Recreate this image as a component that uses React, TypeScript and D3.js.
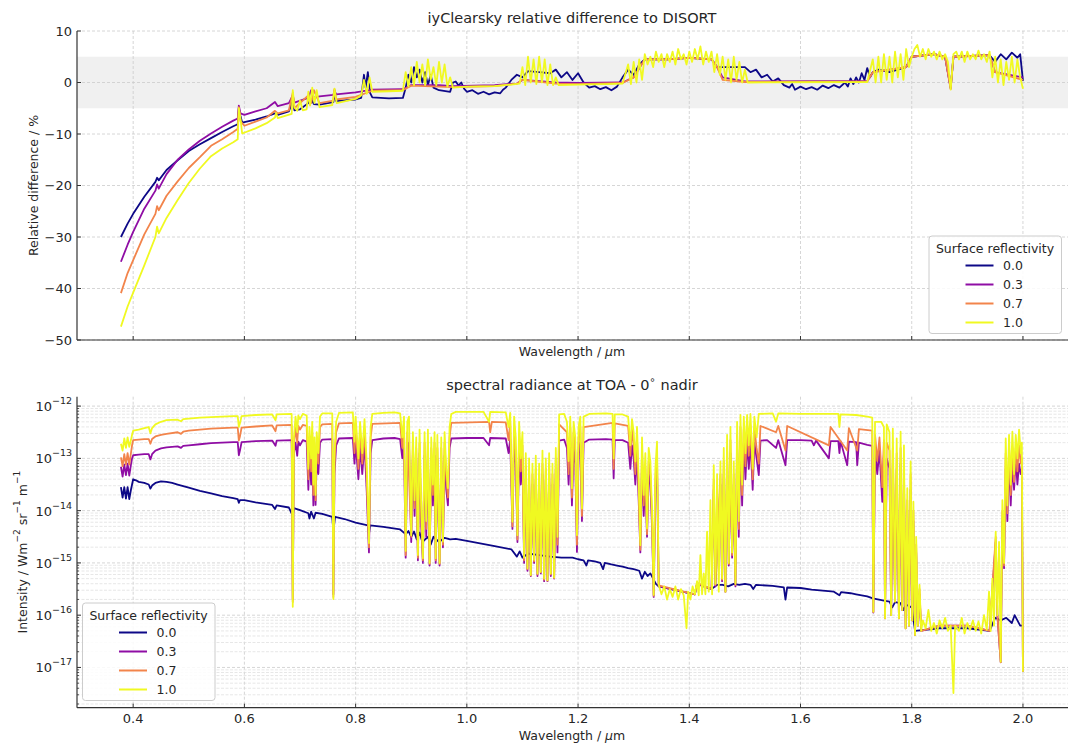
import React from 'react';
import * as d3 from 'd3';

// reflectivity classes shown in both legends
const reflectivities = ['0.0', '0.3', '0.7', '1.0'];
const xTickValues = [0.4, 0.6, 0.8, 1.0, 1.2, 1.4, 1.6, 1.8, 2.0];
const topYTicks = [10, 0, -10, -20, -30, -40, -50];
const botYExponents = [-12, -13, -14, -15, -16, -17];

// top panel: relative difference (%) vs wavelength (um)
const topR00: [number, number][] = [
  [0.378, -30.0], [0.39, -27.4], [0.40, -25.5], [0.42, -22.2], [0.44, -19.3], [0.443, -18.5], [0.446, -19.0],
  [0.46, -17.0], [0.48, -15.1], [0.50, -13.3], [0.52, -12.0], [0.54, -10.8], [0.56, -9.6], [0.58, -8.5],
  [0.588, -8.1], [0.59, -5.0], [0.593, -6.5], [0.596, -7.8], [0.62, -7.2], [0.64, -6.6], [0.655, -6.0],
  [0.66, -6.3], [0.68, -5.6], [0.687, -3.5], [0.69, -5.4], [0.70, -5.2], [0.715, -4.0], [0.72, -3.2],
  [0.725, -4.2], [0.735, -4.3], [0.76, -3.8], [0.762, -2.2], [0.765, -3.6], [0.80, -3.3], [0.81, -3.0],
  [0.815, 1.5], [0.818, -1.0], [0.822, 2.0], [0.826, -2.0], [0.83, -2.9], [0.86, -3.1], [0.885, -3.0],
  [0.89, -1.0], [0.895, 1.5], [0.90, 0.0], [0.905, 3.0], [0.91, 1.0], [0.915, 2.5], [0.92, 0.0], [0.925, 2.0],
  [0.93, -0.5], [0.935, 1.5], [0.94, -1.0], [0.95, -1.5], [0.97, -1.8], [0.975, 0.0], [0.98, 0.2], [0.985, -0.6],
  [0.99, 0.0], [0.995, -1.2], [1.00, -1.8], [1.01, -1.5], [1.02, -2.2], [1.03, -1.8], [1.04, -2.3], [1.05, -1.9],
  [1.06, -2.1], [1.065, -1.4], [1.07, -1.0], [1.08, 0.5], [1.09, 1.5], [1.10, 1.0], [1.11, 2.2], [1.13, 2.0],
  [1.15, 1.8], [1.16, 2.5], [1.17, 1.0], [1.18, 2.0], [1.19, 0.5], [1.20, 1.8], [1.21, 0.0], [1.22, -1.0],
  [1.23, -0.7], [1.24, -1.3], [1.25, -0.9], [1.26, -1.5], [1.27, -0.8], [1.28, 1.0], [1.29, 2.5], [1.30, 1.5],
  [1.31, 3.5], [1.32, 4.5], [1.36, 4.5], [1.40, 4.8], [1.44, 4.5], [1.45, 3.0], [1.50, 3.0], [1.51, 2.0],
  [1.52, 2.5], [1.53, 1.0], [1.54, 1.5], [1.55, 0.2], [1.56, 0.8], [1.57, -0.5], [1.58, -1.0], [1.585, -0.3],
  [1.59, -1.4], [1.60, -0.8], [1.61, -1.3], [1.62, -0.9], [1.63, -1.4], [1.64, -0.6], [1.65, -1.1], [1.66, -0.5],
  [1.67, -1.0], [1.68, 0.0], [1.685, -0.8], [1.69, 0.8], [1.695, -0.3], [1.70, 1.0], [1.705, 0.0], [1.71, 1.8],
  [1.715, 0.5], [1.72, 2.8], [1.725, 1.0], [1.73, 2.0], [1.74, 2.5], [1.76, 2.0], [1.79, 3.0], [1.80, 5.0],
  [1.84, 5.5], [1.86, 5.0], [1.87, -1.0], [1.875, 5.0], [1.94, 5.3], [1.95, 4.0], [1.96, 5.5], [1.97, 4.5],
  [1.98, 5.8], [1.99, 4.8], [1.995, 5.5], [2.0, 0.3],
];
const topR03: [number, number][] = [
  [0.378, -34.8], [0.39, -31.5], [0.40, -29.0], [0.42, -24.5], [0.44, -21.0], [0.443, -19.8], [0.446, -20.6],
  [0.46, -17.8], [0.48, -15.0], [0.50, -13.0], [0.52, -11.3], [0.54, -9.9], [0.56, -8.6], [0.58, -7.4],
  [0.588, -7.0], [0.59, -4.5], [0.593, -6.0], [0.60, -6.3], [0.62, -5.6], [0.64, -5.0], [0.655, -3.8],
  [0.66, -4.6], [0.68, -4.0], [0.687, -2.5], [0.69, -3.9], [0.715, -3.0], [0.72, -1.5], [0.725, -3.0],
  [0.735, -2.7], [0.76, -2.4], [0.762, -1.5], [0.765, -2.3], [0.80, -1.9], [0.83, -1.4], [0.885, -1.3],
  [0.90, -0.5], [0.95, -0.5], [0.975, -0.7], [1.05, -0.5], [1.09, -0.2], [1.10, 0.5], [1.16, 0.0],
  [1.20, -0.1], [1.28, 0.0], [1.30, 1.0], [1.32, 4.5], [1.36, 4.5], [1.40, 4.8], [1.44, 4.5], [1.45, 3.0],
  [1.46, 1.0], [1.50, 0.2], [1.72, 0.3], [1.73, 2.0], [1.79, 3.0], [1.80, 5.0], [1.84, 5.5], [1.86, 5.0],
  [1.87, -1.2], [1.875, 5.0], [1.94, 5.3], [1.95, 2.0], [2.0, 1.0],
];
const topR07: [number, number][] = [
  [0.378, -40.9], [0.39, -37.0], [0.40, -34.5], [0.42, -29.5], [0.44, -25.5], [0.443, -24.0], [0.446, -24.8],
  [0.46, -22.0], [0.48, -19.2], [0.50, -16.6], [0.52, -14.5], [0.54, -12.3], [0.56, -11.0], [0.58, -9.6],
  [0.588, -9.0], [0.59, -4.8], [0.593, -7.5], [0.60, -8.4], [0.62, -7.6], [0.64, -6.8], [0.655, -5.5],
  [0.66, -6.0], [0.68, -5.4], [0.687, -2.0], [0.69, -5.0], [0.715, -2.5], [0.72, -4.0], [0.725, -1.5],
  [0.735, -4.0], [0.76, -3.5], [0.762, -1.3], [0.765, -3.3], [0.80, -2.8], [0.83, -1.6], [0.885, -1.5],
  [0.90, -0.6], [0.975, -0.9], [1.05, -0.7], [1.09, -0.2], [1.10, 0.5], [1.16, -0.2], [1.20, -0.3],
  [1.28, -0.1], [1.30, 1.0], [1.32, 4.5], [1.36, 4.5], [1.40, 4.8], [1.44, 4.5], [1.45, 3.0], [1.46, 0.5],
  [1.50, 0.1], [1.72, 0.2], [1.73, 2.0], [1.79, 3.0], [1.80, 5.0], [1.84, 5.5], [1.86, 5.0], [1.87, -1.3],
  [1.875, 5.0], [1.94, 5.3], [1.95, 2.0], [2.0, 0.5],
];
const topR10: [number, number][] = [
  [0.378, -47.4], [0.39, -43.5], [0.40, -40.8], [0.42, -35.5], [0.44, -30.0], [0.443, -28.0], [0.446, -29.3],
  [0.46, -26.3], [0.48, -22.8], [0.50, -19.5], [0.52, -16.7], [0.54, -14.3], [0.56, -12.8], [0.58, -11.6],
  [0.588, -11.0], [0.59, -5.0], [0.593, -7.0], [0.596, -9.9], [0.62, -8.9], [0.64, -7.9], [0.655, -6.8],
  [0.657, -5.9], [0.66, -6.9], [0.685, -6.1], [0.687, -1.5], [0.69, -4.8], [0.695, -5.5], [0.70, -3.5],
  [0.705, -5.4], [0.712, -5.2], [0.715, -1.8], [0.718, -4.5], [0.722, -1.0], [0.726, -4.0], [0.73, -1.5],
  [0.735, -4.8], [0.758, -4.4], [0.762, -1.2], [0.766, -4.0], [0.80, -3.2], [0.81, -2.5], [0.815, 0.5],
  [0.82, -2.2], [0.825, 1.0], [0.83, -1.8], [0.86, -1.7], [0.885, -1.6], [0.89, 2.0], [0.895, -0.8],
  [0.90, 3.0], [0.905, -0.5], [0.91, 4.0], [0.915, 0.0], [0.92, 3.5], [0.925, -0.5], [0.93, 4.5], [0.935, 0.5],
  [0.94, 3.0], [0.945, -0.5], [0.95, 4.0], [0.955, 0.0], [0.96, 3.5], [0.965, -0.8], [0.97, 1.0], [0.975, -1.0],
  [1.0, -0.8], [1.05, -0.7], [1.08, -0.4], [1.095, -0.2], [1.10, 3.0], [1.105, -0.5], [1.11, 5.0], [1.115, 0.0],
  [1.12, 4.5], [1.125, -0.3], [1.13, 5.0], [1.135, 0.0], [1.14, 4.5], [1.145, -0.5], [1.15, 3.5], [1.155, -0.5],
  [1.16, 1.0], [1.165, -0.5], [1.20, -0.4], [1.25, -0.3], [1.28, -0.2], [1.29, 3.5], [1.295, -0.3], [1.30, 4.0],
  [1.305, 0.0], [1.31, 4.5], [1.315, 0.5], [1.32, 5.5], [1.325, 3.5], [1.33, 5.0], [1.335, 3.0], [1.34, 6.0],
  [1.345, 4.0], [1.35, 5.5], [1.355, 3.0], [1.36, 5.5], [1.365, 4.0], [1.37, 6.0], [1.375, 3.5], [1.38, 6.5],
  [1.385, 4.5], [1.39, 5.5], [1.395, 3.5], [1.40, 6.0], [1.405, 4.0], [1.41, 6.5], [1.415, 4.5], [1.42, 7.0],
  [1.425, 3.5], [1.43, 6.0], [1.435, 4.0], [1.44, 6.0], [1.445, 2.0], [1.45, 5.5], [1.455, 1.5], [1.46, 5.0],
  [1.465, 0.5], [1.47, 4.5], [1.475, 0.0], [1.48, 5.0], [1.485, 0.5], [1.49, 4.0], [1.495, 0.0], [1.50, 2.5],
  [1.505, 0.0], [1.72, 0.1], [1.73, 4.5], [1.735, 0.0], [1.74, 5.0], [1.745, 0.0], [1.75, 5.5], [1.755, 0.5],
  [1.76, 5.0], [1.765, 0.0], [1.77, 6.0], [1.775, 1.0], [1.78, 5.5], [1.785, 0.5], [1.79, 6.5], [1.795, 3.0],
  [1.80, 5.0], [1.805, 6.5], [1.81, 7.3], [1.815, 5.0], [1.82, 6.5], [1.825, 4.5], [1.83, 6.5], [1.835, 5.0],
  [1.84, 6.0], [1.845, 4.5], [1.85, 6.0], [1.855, 4.5], [1.86, 5.5], [1.865, 4.0], [1.87, -1.4], [1.875, 5.5],
  [1.88, 6.0], [1.885, 4.5], [1.89, 6.0], [1.895, 4.0], [1.90, 6.0], [1.905, 4.5], [1.91, 5.5], [1.915, 4.5],
  [1.92, 6.2], [1.925, 4.5], [1.93, 5.5], [1.935, 4.0], [1.94, 6.0], [1.945, 1.0], [1.95, 5.0], [1.955, 0.0],
  [1.96, 4.5], [1.965, -0.5], [1.97, 4.0], [1.975, 0.5], [1.98, 5.0], [1.985, 0.0], [1.99, 4.5], [1.995, 1.0],
  [2.0, -1.2],
];

// bottom panel: log10 of radiance vs wavelength (um)
const botR00: [number, number][] = [
  [0.378, -13.55], [0.381, -13.75], [0.384, -13.55], [0.387, -13.77], [0.39, -13.55], [0.393, -13.78],
  [0.396, -13.6], [0.398, -13.5], [0.40, -13.4], [0.405, -13.42], [0.41, -13.45], [0.42, -13.47], [0.428, -13.5],
  [0.431, -13.58], [0.434, -13.52], [0.44, -13.47], [0.45, -13.44], [0.46, -13.45], [0.47, -13.47], [0.48, -13.5],
  [0.49, -13.53], [0.50, -13.56], [0.52, -13.62], [0.54, -13.67], [0.56, -13.72], [0.58, -13.76], [0.588, -13.78],
  [0.59, -13.85], [0.592, -13.8], [0.60, -13.8], [0.62, -13.84], [0.65, -13.89], [0.655, -13.97], [0.658, -13.9],
  [0.68, -13.94], [0.687, -14.1], [0.689, -13.95], [0.70, -13.99], [0.715, -14.05], [0.717, -14.15], [0.72, -14.02],
  [0.725, -14.15], [0.728, -14.04], [0.74, -14.06], [0.758, -14.12], [0.76, -14.4], [0.763, -14.12], [0.78, -14.16],
  [0.80, -14.23], [0.822, -14.28], [0.824, -14.45], [0.826, -14.28], [0.85, -14.31], [0.88, -14.36], [0.89, -14.45],
  [0.895, -14.39], [0.90, -14.5], [0.905, -14.4], [0.91, -14.55], [0.915, -14.42], [0.92, -14.6], [0.93, -14.5],
  [0.935, -14.65], [0.94, -14.5], [0.95, -14.6], [0.96, -14.52], [0.97, -14.55], [0.98, -14.54], [1.00, -14.58],
  [1.05, -14.68], [1.08, -14.74], [1.09, -14.88], [1.095, -14.78], [1.10, -14.9], [1.11, -14.82], [1.13, -14.85],
  [1.15, -14.88], [1.17, -14.9], [1.19, -14.9], [1.20, -14.93], [1.21, -14.95], [1.215, -15.05], [1.218, -14.95],
  [1.23, -14.97], [1.24, -15.0], [1.245, -15.12], [1.248, -15.0], [1.26, -15.03], [1.27, -15.05], [1.28, -15.07],
  [1.29, -15.1], [1.30, -15.12], [1.31, -15.15], [1.315, -15.3], [1.32, -15.17], [1.325, -15.25], [1.33, -15.2],
  [1.34, -15.4], [1.345, -15.45], [1.41, -15.6], [1.414, -15.4], [1.44, -15.5], [1.45, -15.42], [1.46, -15.42],
  [1.47, -15.45], [1.48, -15.4], [1.49, -15.42], [1.50, -15.4], [1.51, -15.42], [1.515, -15.5], [1.52, -15.42],
  [1.55, -15.44], [1.57, -15.47], [1.573, -15.7], [1.576, -15.47], [1.60, -15.48], [1.62, -15.51], [1.64, -15.53],
  [1.66, -15.55], [1.67, -15.62], [1.673, -15.56], [1.69, -15.58], [1.70, -15.6], [1.72, -15.64], [1.73, -15.68],
  [1.75, -15.72], [1.76, -15.74], [1.765, -15.85], [1.77, -15.75], [1.78, -15.77], [1.785, -15.9], [1.79, -15.8],
  [1.80, -15.85], [1.806, -16.3], [1.85, -16.25], [1.90, -16.25], [1.94, -16.3], [1.95, -16.05], [1.96, -16.1],
  [1.97, -16.05], [1.98, -16.15], [1.985, -16.0], [1.99, -16.1], [1.995, -16.2], [2.0, -16.2],
];
const botR03: [number, number][] = [
  [0.378, -13.16], [0.381, -13.35], [0.384, -13.12], [0.387, -13.32], [0.39, -13.1], [0.393, -13.33],
  [0.396, -13.12], [0.398, -13.0], [0.40, -12.94], [0.41, -12.93], [0.42, -12.92], [0.428, -12.92],
  [0.431, -13.02], [0.434, -12.92], [0.44, -12.85], [0.45, -12.81], [0.46, -12.79], [0.48, -12.77],
  [0.486, -12.8], [0.49, -12.76], [0.50, -12.75], [0.52, -12.73], [0.54, -12.71], [0.56, -12.7], [0.58, -12.69],
  [0.588, -12.69], [0.59, -12.94], [0.592, -12.85], [0.595, -12.69], [0.62, -12.67], [0.65, -12.66],
  [0.656, -12.76], [0.658, -12.66], [0.685, -12.65], [0.687, -15.7], [0.689, -12.9], [0.692, -12.7],
  [0.695, -12.95], [0.697, -12.68], [0.70, -12.75], [0.705, -12.65], [0.712, -12.68], [0.715, -13.6],
  [0.717, -12.9], [0.72, -13.5], [0.722, -12.8], [0.724, -13.9], [0.726, -13.1], [0.728, -13.89], [0.73, -13.0],
  [0.733, -13.3], [0.736, -12.7], [0.74, -12.64], [0.758, -12.63], [0.76, -15.6], [0.762, -13.3], [0.765, -12.75],
  [0.77, -12.62], [0.795, -12.61], [0.798, -13.1], [0.80, -12.7], [0.805, -13.4], [0.808, -12.8], [0.812, -13.3],
  [0.816, -12.7], [0.82, -13.64], [0.824, -14.8], [0.827, -12.9], [0.83, -12.65], [0.85, -12.62], [0.87, -12.61],
  [0.88, -12.63], [0.884, -13.0], [0.887, -12.7], [0.89, -14.9], [0.893, -12.8], [0.896, -12.7], [0.90, -14.6],
  [0.903, -12.9], [0.906, -14.1], [0.909, -13.0], [0.912, -14.95], [0.915, -12.9], [0.918, -14.3], [0.921, -15.0],
  [0.924, -12.95], [0.927, -14.5], [0.93, -12.9], [0.933, -15.05], [0.936, -13.0], [0.939, -13.9], [0.942, -12.95],
  [0.944, -15.0], [0.947, -13.0], [0.951, -15.05], [0.954, -13.05], [0.957, -14.7], [0.96, -12.95], [0.963, -13.6],
  [0.966, -13.9], [0.969, -12.8], [0.972, -12.62], [1.00, -12.61], [1.03, -12.61], [1.04, -12.75], [1.042, -12.61],
  [1.07, -12.62], [1.075, -12.9], [1.078, -12.63], [1.082, -14.35], [1.085, -12.7], [1.088, -13.1], [1.091, -14.6],
  [1.094, -12.8], [1.097, -13.5], [1.10, -13.0], [1.103, -15.0], [1.106, -13.4], [1.109, -15.15], [1.112, -13.5],
  [1.115, -15.25], [1.118, -13.5], [1.121, -15.0], [1.124, -13.4], [1.127, -15.25], [1.13, -13.5], [1.133, -15.2],
  [1.136, -13.3], [1.139, -15.35], [1.142, -13.4], [1.145, -15.35], [1.148, -13.3], [1.151, -15.25], [1.154, -13.5],
  [1.157, -15.3], [1.16, -13.2], [1.163, -14.8], [1.166, -12.66], [1.175, -12.64], [1.18, -12.8], [1.183, -13.5],
  [1.186, -12.7], [1.189, -13.9], [1.192, -12.8], [1.195, -13.1], [1.198, -14.79], [1.201, -12.9], [1.204, -12.7],
  [1.207, -14.2], [1.21, -12.7], [1.22, -12.64], [1.25, -12.63], [1.262, -12.64], [1.264, -13.38], [1.266, -12.65],
  [1.28, -12.65], [1.29, -12.7], [1.294, -13.2], [1.297, -12.75], [1.30, -13.0], [1.303, -13.5], [1.306, -12.9],
  [1.309, -13.8], [1.312, -14.8], [1.315, -13.1], [1.318, -14.1], [1.321, -13.4], [1.324, -14.5], [1.327, -13.3],
  [1.33, -13.5], [1.333, -14.3], [1.336, -15.65], [1.339, -13.6], [1.342, -13.2], [1.345, -15.45], [1.41, -15.6],
  [1.414, -15.4], [1.44, -15.5], [1.444, -13.6], [1.447, -15.45], [1.456, -13.5], [1.459, -15.35], [1.462, -13.3],
  [1.465, -15.55], [1.468, -13.0], [1.471, -15.05], [1.474, -12.9], [1.477, -14.9], [1.48, -13.5], [1.483, -15.45],
  [1.486, -12.8], [1.489, -14.5], [1.492, -12.67], [1.495, -13.9], [1.498, -12.7], [1.501, -13.4], [1.504, -12.67],
  [1.507, -13.2], [1.51, -12.65], [1.514, -13.6], [1.517, -12.7], [1.521, -13.0], [1.525, -13.32], [1.528, -12.66],
  [1.54, -12.65], [1.556, -12.8], [1.56, -12.65], [1.573, -13.13], [1.576, -12.65], [1.60, -12.65], [1.62, -12.66],
  [1.624, -12.75], [1.628, -12.66], [1.651, -13.0], [1.654, -12.67], [1.668, -12.67], [1.67, -12.9], [1.672, -12.67],
  [1.684, -13.13], [1.687, -12.68], [1.70, -12.69], [1.702, -13.13], [1.705, -12.7], [1.72, -12.74], [1.729, -12.76],
  [1.731, -15.95], [1.734, -12.8], [1.738, -13.3], [1.742, -12.85], [1.747, -13.83], [1.75, -12.9], [1.752, -16.06],
  [1.755, -13.0], [1.76, -13.2], [1.763, -16.0], [1.766, -13.1], [1.77, -15.74], [1.773, -13.2], [1.777, -16.06],
  [1.78, -13.1], [1.783, -15.9], [1.786, -13.4], [1.789, -16.25], [1.792, -14.0], [1.795, -16.2], [1.798, -13.6],
  [1.801, -16.1], [1.803, -14.2], [1.806, -16.38], [1.808, -14.8], [1.811, -16.2], [1.814, -15.6], [1.817, -16.3],
  [1.85, -16.2], [1.90, -16.2], [1.94, -16.3], [1.951, -14.6], [1.954, -16.0], [1.96, -16.9], [1.963, -14.2],
  [1.966, -15.1], [1.969, -13.2], [1.972, -14.2], [1.975, -13.0], [1.978, -13.9], [1.981, -13.1], [1.984, -13.6],
  [1.987, -13.0], [1.99, -13.5], [1.993, -13.1], [1.996, -13.3], [1.998, -13.2], [2.0, -17.08],
];
const botR07: [number, number][] = [
  [0.378, -12.98], [0.381, -13.15], [0.384, -12.92], [0.387, -13.12], [0.39, -12.9], [0.393, -13.12],
  [0.396, -12.9], [0.398, -12.75], [0.40, -12.65], [0.41, -12.64], [0.42, -12.63], [0.428, -12.63],
  [0.431, -12.72], [0.434, -12.63], [0.44, -12.58], [0.45, -12.55], [0.46, -12.53], [0.48, -12.5],
  [0.486, -12.53], [0.49, -12.49], [0.50, -12.47], [0.52, -12.45], [0.54, -12.43], [0.56, -12.42], [0.58, -12.41],
  [0.588, -12.41], [0.59, -12.66], [0.592, -12.58], [0.595, -12.41], [0.62, -12.39], [0.65, -12.37],
  [0.656, -12.48], [0.658, -12.37], [0.685, -12.36], [0.687, -15.75], [0.689, -12.75], [0.692, -12.4],
  [0.695, -12.7], [0.697, -12.38], [0.70, -12.45], [0.705, -12.36], [0.712, -12.38], [0.715, -13.4],
  [0.717, -12.6], [0.72, -13.25], [0.722, -12.5], [0.724, -13.7], [0.726, -12.8], [0.728, -13.8], [0.73, -12.7],
  [0.733, -13.1], [0.736, -12.4], [0.74, -12.35], [0.758, -12.34], [0.76, -15.65], [0.762, -13.1], [0.765, -12.5],
  [0.77, -12.33], [0.795, -12.32], [0.798, -12.9], [0.80, -12.4], [0.805, -13.2], [0.808, -12.5], [0.812, -13.1],
  [0.816, -12.45], [0.82, -13.4], [0.824, -14.7], [0.827, -12.6], [0.83, -12.34], [0.88, -12.32], [0.884, -12.8],
  [0.887, -12.4], [0.89, -14.85], [0.893, -12.5], [0.90, -14.5], [0.903, -12.7], [0.906, -13.95], [0.909, -12.8],
  [0.912, -14.9], [0.915, -12.7], [0.918, -14.1], [0.921, -14.95], [0.924, -12.7], [0.927, -14.35], [0.93, -12.7],
  [0.933, -15.02], [0.936, -12.8], [0.939, -13.7], [0.942, -12.7], [0.944, -14.95], [0.947, -12.8], [0.951, -15.02],
  [0.954, -12.8], [0.957, -14.65], [0.96, -12.7], [0.963, -13.4], [0.966, -13.75], [0.969, -12.6], [0.972, -12.32],
  [1.04, -12.3], [1.042, -12.5], [1.045, -12.3], [1.07, -12.31], [1.075, -12.65], [1.078, -12.32], [1.082, -14.3],
  [1.085, -12.45], [1.088, -12.85], [1.091, -14.55], [1.094, -12.55], [1.097, -13.25], [1.10, -12.75],
  [1.103, -14.95], [1.106, -13.15], [1.109, -15.12], [1.112, -13.25], [1.115, -15.24], [1.118, -13.3],
  [1.121, -14.97], [1.124, -13.2], [1.127, -15.22], [1.13, -13.3], [1.133, -15.18], [1.136, -13.1], [1.139, -15.32],
  [1.142, -13.2], [1.145, -15.34], [1.148, -13.1], [1.151, -15.22], [1.154, -13.3], [1.157, -15.29], [1.16, -13.0],
  [1.163, -14.65], [1.166, -12.35], [1.18, -12.5], [1.183, -13.3], [1.186, -12.4], [1.189, -13.75], [1.192, -12.5],
  [1.195, -12.85], [1.198, -14.65], [1.201, -12.6], [1.204, -12.4], [1.207, -14.1], [1.21, -12.4], [1.262, -12.32],
  [1.264, -13.2], [1.266, -12.33], [1.29, -12.38], [1.294, -12.95], [1.297, -12.45], [1.30, -12.75], [1.303, -13.3],
  [1.306, -12.6], [1.309, -13.6], [1.312, -14.75], [1.315, -12.85], [1.318, -13.9], [1.321, -13.15], [1.324, -14.45],
  [1.327, -13.05], [1.33, -13.3], [1.333, -14.15], [1.336, -15.63], [1.339, -13.4], [1.342, -12.95], [1.345, -15.43],
  [1.41, -15.6], [1.414, -15.38], [1.44, -15.5], [1.444, -13.4], [1.447, -15.42], [1.456, -13.3], [1.459, -15.32],
  [1.462, -13.05], [1.465, -15.55], [1.468, -12.8], [1.471, -15.02], [1.474, -12.65], [1.477, -14.85], [1.48, -13.3],
  [1.483, -15.42], [1.486, -12.55], [1.489, -14.35], [1.492, -12.4], [1.495, -13.7], [1.498, -12.45], [1.501, -13.15],
  [1.504, -12.4], [1.507, -12.95], [1.51, -12.38], [1.514, -13.4], [1.517, -12.42], [1.521, -12.8], [1.525, -13.1],
  [1.528, -12.38], [1.556, -12.5], [1.56, -12.38], [1.573, -12.85], [1.576, -12.38], [1.651, -12.75], [1.654, -12.4],
  [1.684, -12.85], [1.687, -12.42], [1.702, -12.85], [1.705, -12.44], [1.729, -12.47], [1.731, -15.94],
  [1.734, -12.55], [1.738, -13.05], [1.742, -12.6], [1.747, -13.55], [1.75, -12.65], [1.752, -16.06], [1.755, -12.7],
  [1.76, -12.85], [1.763, -16.0], [1.766, -12.8], [1.77, -15.74], [1.773, -12.9], [1.777, -16.06], [1.78, -12.8],
  [1.783, -15.9], [1.786, -13.1], [1.789, -16.25], [1.792, -13.8], [1.795, -16.2], [1.798, -13.3], [1.801, -16.1],
  [1.803, -14.0], [1.806, -16.38], [1.808, -14.65], [1.811, -16.2], [1.814, -15.5], [1.817, -16.3], [1.85, -16.2],
  [1.90, -16.2], [1.94, -16.3], [1.951, -14.5], [1.954, -16.0], [1.96, -16.9], [1.963, -14.0], [1.966, -15.05],
  [1.969, -12.9], [1.972, -14.05], [1.975, -12.8], [1.978, -13.7], [1.981, -12.8], [1.984, -13.45], [1.987, -12.8],
  [1.99, -13.25], [1.993, -12.75], [1.996, -13.1], [1.998, -13.0], [2.0, -17.08],
];
const botR10: [number, number][] = [
  [0.378, -12.72], [0.381, -12.85], [0.384, -12.62], [0.387, -12.8], [0.39, -12.6], [0.393, -12.78],
  [0.396, -12.65], [0.398, -12.55], [0.40, -12.47], [0.41, -12.45], [0.42, -12.42], [0.428, -12.4],
  [0.431, -12.52], [0.434, -12.42], [0.44, -12.35], [0.45, -12.3], [0.46, -12.27], [0.48, -12.26],
  [0.486, -12.29], [0.49, -12.25], [0.50, -12.24], [0.52, -12.22], [0.54, -12.21], [0.56, -12.2], [0.58, -12.19],
  [0.588, -12.19], [0.59, -12.4], [0.592, -12.33], [0.595, -12.19], [0.62, -12.17], [0.65, -12.16],
  [0.656, -12.27], [0.658, -12.16], [0.685, -12.15], [0.687, -15.84], [0.689, -12.6], [0.692, -12.2],
  [0.695, -12.5], [0.697, -12.18], [0.70, -12.25], [0.705, -12.15], [0.712, -12.18], [0.715, -13.2],
  [0.717, -12.4], [0.72, -13.0], [0.722, -12.3], [0.724, -13.5], [0.726, -12.6], [0.728, -13.7], [0.73, -12.5],
  [0.733, -12.9], [0.736, -12.2], [0.74, -12.14], [0.758, -12.14], [0.76, -15.69], [0.762, -12.9], [0.765, -12.3],
  [0.77, -12.13], [0.795, -12.12], [0.798, -12.68], [0.80, -12.2], [0.805, -13.0], [0.808, -12.3], [0.812, -12.9],
  [0.816, -12.25], [0.82, -13.1], [0.824, -14.62], [0.827, -12.4], [0.83, -12.15], [0.85, -12.13], [0.87, -12.12],
  [0.88, -12.14], [0.884, -12.6], [0.887, -12.2], [0.89, -14.77], [0.893, -12.3], [0.896, -12.2], [0.90, -14.47],
  [0.903, -12.5], [0.906, -13.8], [0.909, -12.6], [0.912, -14.85], [0.915, -12.45], [0.918, -13.9], [0.921, -14.91],
  [0.924, -12.5], [0.927, -14.2], [0.93, -12.45], [0.933, -15.0], [0.936, -12.6], [0.939, -13.5], [0.942, -12.5],
  [0.944, -14.91], [0.947, -12.55], [0.951, -15.0], [0.954, -12.6], [0.957, -14.59], [0.96, -12.5], [0.963, -13.2],
  [0.966, -13.57], [0.969, -12.4], [0.972, -12.15], [0.98, -12.11], [1.03, -12.11], [1.04, -12.3], [1.042, -12.11],
  [1.07, -12.12], [1.075, -12.4], [1.078, -12.13], [1.082, -14.21], [1.085, -12.2], [1.088, -12.6], [1.091, -14.47],
  [1.094, -12.3], [1.097, -13.0], [1.10, -12.5], [1.103, -14.9], [1.106, -12.9], [1.109, -15.1], [1.112, -13.0],
  [1.115, -15.23], [1.118, -13.1], [1.121, -14.94], [1.124, -12.95], [1.127, -15.2], [1.13, -13.1], [1.133, -15.17],
  [1.136, -12.85], [1.139, -15.3], [1.142, -13.0], [1.145, -15.33], [1.148, -12.9], [1.151, -15.2], [1.154, -13.1],
  [1.157, -15.28], [1.16, -12.8], [1.163, -14.5], [1.166, -12.16], [1.175, -12.15], [1.18, -12.3], [1.183, -13.05],
  [1.186, -12.2], [1.189, -13.57], [1.192, -12.3], [1.195, -12.6], [1.198, -14.47], [1.201, -12.4], [1.204, -12.2],
  [1.207, -13.96], [1.21, -12.2], [1.22, -12.15], [1.25, -12.14], [1.262, -12.15], [1.264, -13.0], [1.266, -12.16],
  [1.28, -12.16], [1.29, -12.2], [1.294, -12.75], [1.297, -12.25], [1.30, -12.5], [1.303, -13.06], [1.306, -12.4],
  [1.309, -13.4], [1.312, -14.66], [1.315, -12.6], [1.318, -13.7], [1.321, -12.9], [1.324, -14.34], [1.327, -12.8],
  [1.33, -13.06], [1.333, -14.0], [1.336, -15.61], [1.339, -13.2], [1.342, -12.68], [1.345, -15.42], [1.35, -15.6],
  [1.355, -15.45], [1.36, -15.7], [1.365, -15.5], [1.37, -15.65], [1.375, -15.45], [1.38, -15.7], [1.385, -15.5],
  [1.39, -15.62], [1.395, -16.25], [1.398, -15.55], [1.402, -15.7], [1.406, -15.45], [1.41, -15.6], [1.414, -15.35],
  [1.417, -15.62], [1.42, -14.85], [1.423, -15.6], [1.426, -15.2], [1.429, -15.6], [1.432, -14.4], [1.435, -15.55],
  [1.438, -13.8], [1.441, -15.6], [1.444, -13.13], [1.447, -15.4], [1.45, -13.3], [1.453, -15.55], [1.456, -13.06],
  [1.459, -15.3], [1.462, -12.8], [1.465, -15.55], [1.468, -12.55], [1.471, -15.0], [1.474, -12.4], [1.477, -14.8],
  [1.48, -13.06], [1.483, -15.4], [1.486, -12.3], [1.489, -14.2], [1.492, -12.17], [1.495, -13.5], [1.498, -12.2],
  [1.501, -12.9], [1.504, -12.17], [1.507, -12.75], [1.51, -12.15], [1.514, -13.2], [1.517, -12.2], [1.521, -12.6],
  [1.525, -12.15], [1.55, -12.14], [1.556, -12.3], [1.56, -12.14], [1.60, -12.15], [1.668, -12.15], [1.67, -12.4],
  [1.672, -12.16], [1.70, -12.17], [1.72, -12.2], [1.729, -12.22], [1.731, -15.93], [1.734, -12.3], [1.745, -12.3],
  [1.75, -12.4], [1.752, -16.06], [1.755, -12.35], [1.76, -12.5], [1.763, -16.0], [1.766, -12.43], [1.77, -15.74],
  [1.773, -12.62], [1.777, -16.06], [1.78, -12.49], [1.783, -15.9], [1.786, -12.75], [1.789, -16.25], [1.792, -13.57],
  [1.795, -16.2], [1.798, -13.06], [1.801, -16.1], [1.803, -13.83], [1.806, -16.38], [1.808, -14.5], [1.811, -16.2],
  [1.814, -15.42], [1.817, -16.3], [1.82, -16.1], [1.825, -16.25], [1.83, -15.9], [1.835, -16.3], [1.84, -16.15],
  [1.845, -16.35], [1.85, -16.1], [1.855, -16.25], [1.86, -16.05], [1.865, -16.3], [1.87, -16.2], [1.875, -17.49],
  [1.878, -16.2], [1.885, -16.3], [1.89, -16.05], [1.895, -16.35], [1.90, -16.15], [1.905, -16.28], [1.91, -16.1],
  [1.915, -16.3], [1.92, -16.12], [1.925, -16.35], [1.93, -16.0], [1.935, -16.28], [1.939, -15.55], [1.942, -16.3],
  [1.945, -15.3], [1.948, -16.2], [1.951, -14.4], [1.954, -16.0], [1.957, -14.6], [1.96, -16.89], [1.963, -13.8],
  [1.966, -15.0], [1.969, -12.62], [1.972, -13.9], [1.975, -12.55], [1.978, -13.5], [1.981, -12.49], [1.984, -13.3],
  [1.987, -12.55], [1.99, -13.0], [1.993, -12.45], [1.996, -12.9], [1.998, -12.7], [2.0, -17.08],
];

const topSeries = [topR00, topR03, topR07, topR10];
const botSeries = [botR00, botR03, botR07, botR10];

const W = 1072;
const H = 744;
const left = 77;
const right = 1068;
const top1 = 31, bottom1 = 340;
const top2 = 396.7, bottom2 = 707.7;
const FONT = 'DejaVu Sans, sans-serif';
const TEXT = '#262626';
const GRID = '#cccccc';

const x = d3.scaleLinear().domain([0.299, 2.081]).range([left, right]);
const yTop = d3.scaleLinear().domain([-50, 10]).range([bottom1, top1]);
const yBot = d3.scaleLog().domain([Math.pow(10, -17.77), Math.pow(10, -11.82)]).range([bottom2, top2]);

const colors = reflectivities.map((r) => d3.interpolatePlasma(+r));

const lineTop = d3.line<[number, number]>().x((d) => x(d[0])).y((d) => yTop(d[1]));
const lineBot = d3.line<[number, number]>().x((d) => x(d[0])).y((d) => yBot(Math.pow(10, d[1])));

// minor log ticks for bottom grid
const minorVals: number[] = [];
for (let e = -18; e <= -12; e++) {
  for (let m = 2; m <= 9; m++) {
    const v = m * Math.pow(10, e);
    if (v > yBot.domain()[0] && v < yBot.domain()[1]) minorVals.push(v);
  }
}

const Legend = ({ lx, ly }: { lx: number; ly: number }) => (
  <g transform={`translate(${lx},${ly})`}>
    <rect x={0} y={0} width={132.5} height={97.5} rx={3} fill="white" fillOpacity={0.85} stroke="#cccccc" />
    <text x={66} y={12} fontSize={12.5} fill={TEXT} textAnchor="middle" dominantBaseline="central">
      Surface reflectivity
    </text>
    {reflectivities.map((r, i) => (
      <g key={r} transform={`translate(0,${29.5 + i * 19})`}>
        <line x1={36.5} x2={64.5} y1={0} y2={0} stroke={colors[i]} strokeWidth={2} />
        <text x={74} y={0} fontSize={12.5} fill={TEXT} dominantBaseline="central">{r}</text>
      </g>
    ))}
  </g>
);

export default function App() {
  return (
    <div style={{ position: 'absolute', left: 0, top: 0 }}>
      <svg width={W} height={H} style={{ display: 'block', background: 'white' }} fontFamily={FONT}>
        <defs>
          <clipPath id="clipTop"><rect x={left} y={top1} width={right - left} height={bottom1 - top1} /></clipPath>
          <clipPath id="clipBot"><rect x={left} y={top2} width={right - left} height={bottom2 - top2} /></clipPath>
        </defs>

        {/* ---------- top panel ---------- */}
        <rect x={left} y={yTop(5)} width={right - left} height={yTop(-5) - yTop(5)} fill="#f0f0f0" />
        {xTickValues.map((t) => (
          <line key={'gx1' + t} x1={x(t)} x2={x(t)} y1={top1} y2={bottom1} stroke={GRID} strokeWidth={0.8} strokeDasharray="3,2" />
        ))}
        {topYTicks.map((t) => (
          <line key={'gy1' + t} x1={left} x2={right} y1={yTop(t)} y2={yTop(t)} stroke={GRID} strokeWidth={0.8} strokeDasharray="3,2" />
        ))}
        <g clipPath="url(#clipTop)">
          {topSeries.map((s, i) => (
            <path key={i} d={lineTop(s) || ''} fill="none" stroke={colors[i]} strokeWidth={1.8} strokeLinejoin="round" />
          ))}
        </g>
        <line x1={left} x2={left} y1={top1} y2={bottom1} stroke="#333" strokeWidth={1.2} />
        <line x1={left} x2={right} y1={bottom1} y2={bottom1} stroke="#333" strokeWidth={1.2} />
        {xTickValues.map((t) => (
          <line key={'tx1' + t} x1={x(t)} x2={x(t)} y1={bottom1} y2={bottom1 - 4} stroke="#333" />
        ))}
        {topYTicks.map((t) => (
          <g key={'ty1' + t}>
            <line x1={left} x2={left + 4} y1={yTop(t)} y2={yTop(t)} stroke="#333" />
            <text x={left - 5} y={yTop(t)} fontSize={13} fill={TEXT} textAnchor="end" dominantBaseline="central">
              {t < 0 ? '\u2212' + Math.abs(t) : String(t)}
            </text>
          </g>
        ))}
        <text x={572} y={18} fontSize={14.5} fill={TEXT} textAnchor="middle" dominantBaseline="central">
          iyClearsky relative difference to DISORT
        </text>
        <text x={572} y={351} fontSize={12.5} fill={TEXT} textAnchor="middle" dominantBaseline="central">
          Wavelength / <tspan fontStyle="italic">μ</tspan>m
        </text>
        <text transform={`translate(33,${(top1 + bottom1) / 2}) rotate(-90)`} fontSize={12.5} fill={TEXT} textAnchor="middle" dominantBaseline="central">
          Relative difference / %
        </text>
        <Legend lx={929} ly={236} />

        {/* ---------- bottom panel ---------- */}
        {xTickValues.map((t) => (
          <line key={'gx2' + t} x1={x(t)} x2={x(t)} y1={top2} y2={bottom2} stroke={GRID} strokeWidth={0.8} strokeDasharray="3,2" />
        ))}
        {minorVals.map((v, i) => (
          <line key={'gm' + i} x1={left} x2={right} y1={yBot(v)} y2={yBot(v)} stroke="#dddddd" strokeWidth={0.7} strokeDasharray="3,1.5" />
        ))}
        {botYExponents.map((e) => (
          <line key={'gy2' + e} x1={left} x2={right} y1={yBot(Math.pow(10, e))} y2={yBot(Math.pow(10, e))} stroke={GRID} strokeWidth={0.8} strokeDasharray="3,2" />
        ))}
        <g clipPath="url(#clipBot)">
          {botSeries.map((s, i) => (
            <path key={i} d={lineBot(s) || ''} fill="none" stroke={colors[i]} strokeWidth={1.8} strokeLinejoin="round" />
          ))}
        </g>
        <line x1={left} x2={left} y1={top2} y2={bottom2} stroke="#333" strokeWidth={1.2} />
        <line x1={left} x2={right} y1={bottom2} y2={bottom2} stroke="#333" strokeWidth={1.2} />
        {xTickValues.map((t) => (
          <g key={'tx2' + t}>
            <line x1={x(t)} x2={x(t)} y1={bottom2} y2={bottom2 - 4} stroke="#333" />
            <text x={x(t)} y={718.5} fontSize={13} fill={TEXT} textAnchor="middle" dominantBaseline="central">
              {t.toFixed(1)}
            </text>
          </g>
        ))}
        {minorVals.map((v, i) => (
          <line key={'tm' + i} x1={left} x2={left + 2} y1={yBot(v)} y2={yBot(v)} stroke="#333" strokeWidth={0.8} />
        ))}
        {botYExponents.map((e) => (
          <g key={'ty2' + e}>
            <line x1={left} x2={left + 4} y1={yBot(Math.pow(10, e))} y2={yBot(Math.pow(10, e))} stroke="#333" />
            <text x={left - 5} y={yBot(Math.pow(10, e)) + 5} fontSize={13} fill={TEXT} textAnchor="end">
              10<tspan fontSize={9.5} dy={-7}>{'\u2212' + Math.abs(e)}</tspan>
            </text>
          </g>
        ))}
        <text x={572} y={385} fontSize={14.5} fill={TEXT} textAnchor="middle" dominantBaseline="central">
          spectral radiance at TOA - 0<tspan fontSize={10} dy={-6}>{'\u2218'}</tspan><tspan dy={6}>{'  nadir'}</tspan>
        </text>
        <text x={572} y={735} fontSize={12.5} fill={TEXT} textAnchor="middle" dominantBaseline="central">
          Wavelength / <tspan fontStyle="italic">μ</tspan>m
        </text>
        <text transform={`translate(22,${(top2 + bottom2) / 2}) rotate(-90)`} fontSize={12.5} fill={TEXT} textAnchor="middle" dominantBaseline="central">
          Intensity / Wm<tspan fontSize={9} dy={-5}>{'\u22122'}</tspan><tspan dy={5}> sr</tspan>
          <tspan fontSize={9} dy={-5}>{'\u22121'}</tspan><tspan dy={5}> m</tspan>
          <tspan fontSize={9} dy={-5}>{'\u22121'}</tspan>
        </text>
        <Legend lx={82.5} ly={603} />
      </svg>
    </div>
  );
}
